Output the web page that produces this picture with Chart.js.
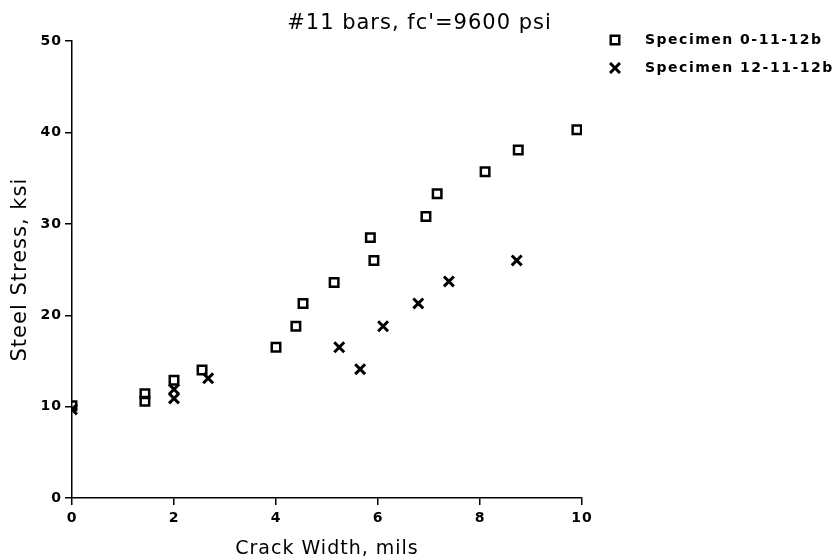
<!DOCTYPE html>
<html>
<head>
<meta charset="utf-8">
<title>#11 bars</title>
<script src="https://cdn.jsdelivr.net/npm/chart.js@4/dist/chart.umd.min.js"></script>
<style>
    html, body {
        margin: 0;
        padding: 0;
        background: #fff;
    }
    .chart-wrap {
        position: relative;
        width: 839px;
        height: 560px;
    }
</style>
</head>
<body>
<div class="chart-wrap">
    <canvas id="crack-chart" width="839" height="560"></canvas>
</div>
<script>

// Specimen 0-11-12b (квадраты)
const widthA = [0, 1.43, 1.43, 2.0, 2.55, 4.0, 4.39, 4.53, 5.14, 5.85, 5.92, 6.94, 7.16, 8.1, 8.75, 9.9];
const stressA = [10.1, 10.6, 11.4, 12.9, 14.0, 16.5, 18.8, 21.3, 23.6, 28.5, 26.0, 30.8, 33.3, 35.7, 38.1, 40.3];

// Specimen 12-11-12b (крестики)
const widthB = [0, 2.0, 2.0, 2.67, 5.24, 5.65, 6.1, 6.79, 7.39, 8.72];
const stressB = [9.7, 10.9, 11.9, 13.1, 16.5, 14.1, 18.8, 21.3, 23.7, 26.0];

const xTicks = [0, 2, 4, 6, 8, 10];
const yTicks = [0, 10, 20, 30, 40, 50];

const seriesNames = ['Specimen 0-11-12b', 'Specimen 12-11-12b'];

const toPoints = (xs, ys) => xs.map((x, i) => ({x: x, y: ys[i]}));

const fontFamily = '"DejaVu Sans", sans-serif';

// шрифт на оригинале широкий - немного разрядки
const spacing = {
    id: 'spacing',
    beforeUpdate: (chart) => {
        chart.ctx.letterSpacing = '1px';
    },
    beforeDraw: (chart) => {
        chart.ctx.letterSpacing = '1px';
    }
};

// легенда справа от графика
const sideLegend = {
    id: 'sideLegend',
    afterDraw: (chart) => {
        const ctx = chart.ctx;
        const left = 615, top = 40, step = 28;
        ctx.save();
        ctx.letterSpacing = '1.5px';
        ctx.font = 'bold 14px ' + fontFamily;
        ctx.textBaseline = 'middle';
        chart.data.datasets.forEach((ds, i) => {
            const y = top + i * step;
            ctx.strokeStyle = '#000';
            ctx.fillStyle = 'rgba(0,0,0,0)';
            ctx.lineWidth = ds.borderWidth;
            Chart.helpers.drawPoint(ctx, {
                pointStyle: ds.pointStyle,
                radius: ds.pointRadius,
                borderWidth: ds.borderWidth
            }, left, y);
            ctx.fillStyle = '#000';
            ctx.fillText(ds.label, left + 30, y);
        });
        ctx.restore();
    }
};

const ctx = document.getElementById('crack-chart').getContext('2d');
const myChart = new Chart(ctx, {
    type: 'scatter',
    data: {
        datasets: [
            {
                label: seriesNames[0],
                data: toPoints(widthA, stressA),
                pointStyle: 'rect',
                pointRadius: 6,
                borderWidth: 2.5,
                borderColor: '#000',
                backgroundColor: 'rgba(0,0,0,0)'
            },
            {
                label: seriesNames[1],
                data: toPoints(widthB, stressB),
                pointStyle: 'crossRot',
                pointRadius: 7,
                borderWidth: 3,
                borderColor: '#000',
                backgroundColor: 'rgba(0,0,0,0)'
            }
        ]
    },
    options: {
        responsive: false,
        animation: false,
        layout: {
            padding: 0
        },
        plugins: {
            legend: {display: false},
            tooltip: {enabled: false},
            title: {
                display: true,
                text: "#11 bars, fc'=9600 psi",
                color: '#000',
                font: {family: fontFamily, size: 21, weight: 'normal'},
                padding: {top: 11, bottom: 5}
            }
        },
        scales: {
            x: {
                type: 'linear',
                min: 0,
                max: 10,
                afterBuildTicks: (scale) => {
                    scale.ticks = xTicks.map(v => ({value: v}));
                },
                afterFit: (scale) => {
                    scale.height = 62;
                },
                border: {display: true, color: '#000', width: 1.5},
                grid: {
                    drawOnChartArea: false,
                    drawTicks: true,
                    tickLength: 7,
                    color: '#000',
                    lineWidth: 1.5
                },
                ticks: {
                    color: '#000',
                    padding: 5,
                    maxRotation: 0,
                    font: {family: fontFamily, size: 14, weight: 'bold'}
                },
                title: {
                    display: true,
                    text: 'Crack Width, mils',
                    color: '#000',
                    font: {family: fontFamily, size: 19},
                    padding: {top: 4, bottom: 0}
                }
            },
            y: {
                type: 'linear',
                min: 0,
                max: 50,
                afterBuildTicks: (scale) => {
                    scale.ticks = yTicks.map(v => ({value: v}));
                },
                afterFit: (scale) => {
                    scale.width = 72;
                },
                border: {display: true, color: '#000', width: 1.5},
                grid: {
                    drawOnChartArea: false,
                    drawTicks: true,
                    tickLength: 7,
                    color: '#000',
                    lineWidth: 1.5
                },
                ticks: {
                    color: '#000',
                    padding: 3,
                    font: {family: fontFamily, size: 14, weight: 'bold'}
                },
                title: {
                    display: true,
                    text: 'Steel Stress, ksi',
                    color: '#000',
                    font: {family: fontFamily, size: 21},
                    padding: {top: 8, bottom: 4}
                }
            },
            // пустая ось справа - место под легенду
            side: {
                type: 'linear',
                position: 'right',
                display: true,
                afterFit: (scale) => {
                    scale.width = 257;
                },
                border: {display: false},
                grid: {display: false},
                ticks: {display: false}
            }
        }
    },
    plugins: [spacing, sideLegend]
});

</script>
</body>
</html>
